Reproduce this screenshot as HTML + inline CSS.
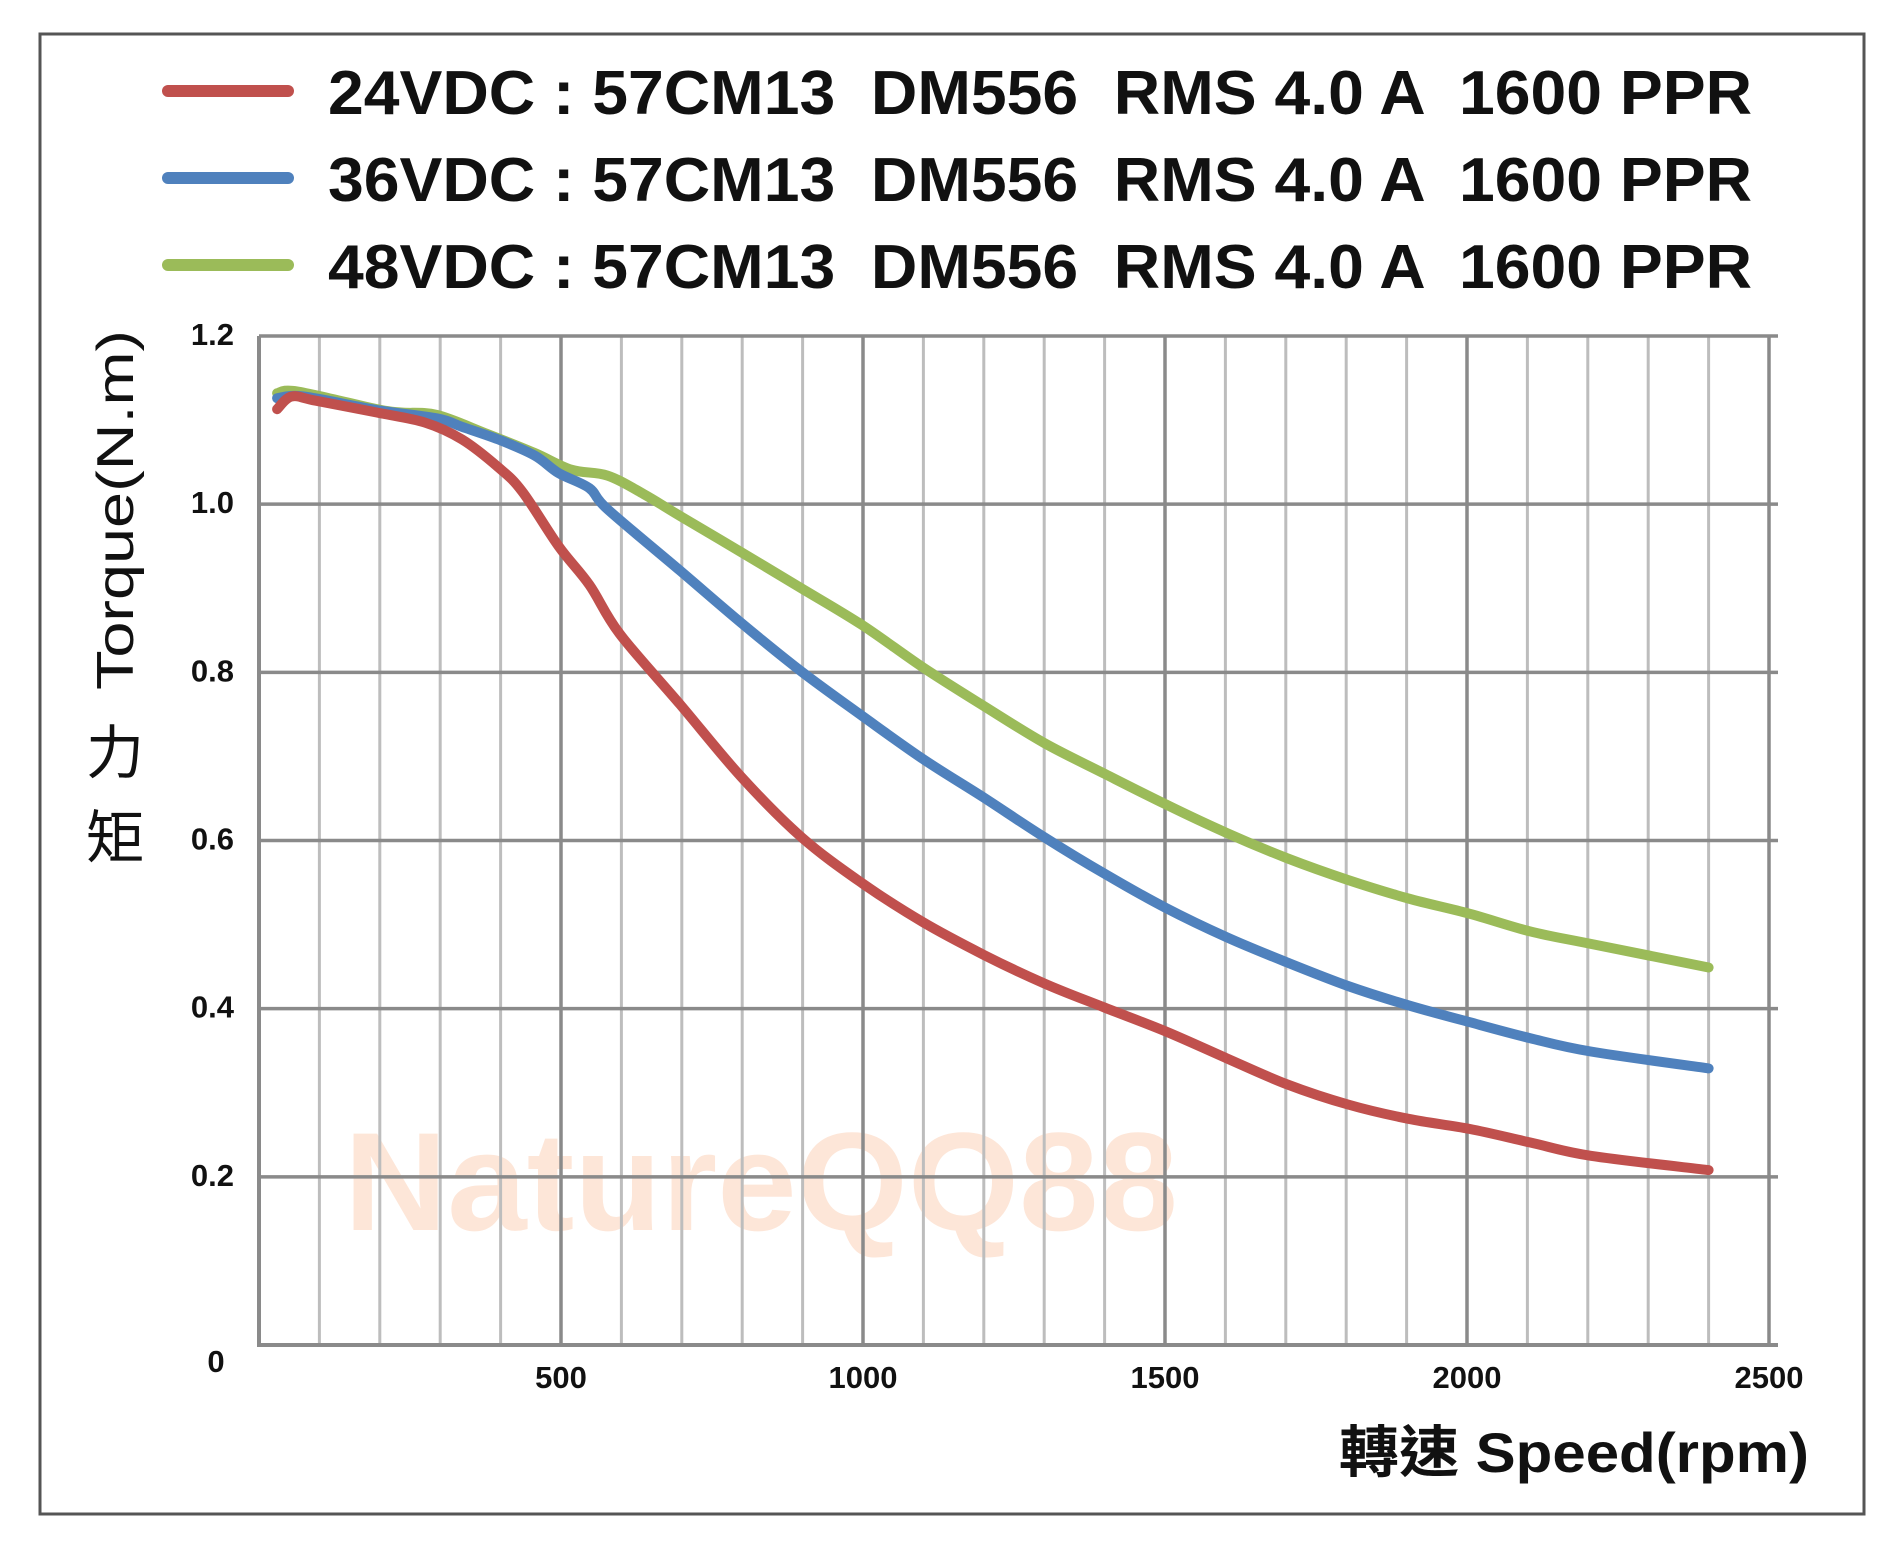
<!DOCTYPE html>
<html><head><meta charset="utf-8"><style>
html,body{margin:0;padding:0;background:#fff;}
svg{display:block;}
</style></head><body>
<svg id="chart" width="1900" height="1550" viewBox="0 0 1900 1550" xmlns="http://www.w3.org/2000/svg">
<rect x="40" y="34" width="1824" height="1480" fill="#fff" stroke="#555" stroke-width="3"/>
<text x="344" y="1230" font-family="Liberation Sans, sans-serif" font-weight="bold" font-size="140" fill="#fde6d8" textLength="834" lengthAdjust="spacingAndGlyphs">NatureQQ88</text>
<g id="grid"></g>
<g id="ticks"></g>
<g id="series"></g>
<g id="legend"></g>
<text transform="translate(133,690) rotate(-90)" font-family="Liberation Sans, sans-serif" font-size="52" fill="#111" textLength="360" lengthAdjust="spacingAndGlyphs">Torque(N.m)</text>
<text x="115" y="773" text-anchor="middle" font-family="'Noto Sans CJK TC', sans-serif" font-size="58" fill="#111">力</text>
<text x="115" y="858" text-anchor="middle" font-family="'Noto Sans CJK TC', sans-serif" font-size="58" fill="#111">矩</text>
<text x="1809" y="1472" text-anchor="end" font-family="'Liberation Sans', 'Noto Sans CJK TC', sans-serif" font-weight="bold" font-size="56" fill="#111" textLength="470" lengthAdjust="spacingAndGlyphs">轉速 Speed(rpm)</text>
</svg>
<script>
const xTicks = [500, 1000, 1500, 2000, 2500];
const yTicks = [0.2, 0.4, 0.6, 0.8, 1.0, 1.2];
const yTickLabels = ['0.2', '0.4', '0.6', '0.8', '1.0', '1.2'];
const seriesNames = ['24VDC', '36VDC', '48VDC'];
const legendLabels = ['24VDC : 57CM13  DM556  RMS 4.0 A  1600 PPR','36VDC : 57CM13  DM556  RMS 4.0 A  1600 PPR','48VDC : 57CM13  DM556  RMS 4.0 A  1600 PPR'];
const rpm24 = [30,54,94,195,275,336,396,436,496,547,597,697,798,898,999,1099,1200,1300,1401,1501,1602,1702,1803,1903,2004,2104,2205,2400];
const tq24 = [1.113,1.128,1.123,1.109,1.097,1.077,1.044,1.015,0.950,0.904,0.846,0.762,0.676,0.604,0.549,0.503,0.464,0.430,0.401,0.373,0.341,0.310,0.286,0.269,0.257,0.241,0.225,0.208];
const rpm36 = [30,74,195,295,336,396,456,496,547,577,697,798,898,999,1099,1200,1300,1401,1501,1602,1702,1803,1903,2004,2104,2205,2400];
const tq36 = [1.126,1.128,1.112,1.102,1.092,1.077,1.058,1.037,1.019,0.994,0.921,0.859,0.801,0.748,0.697,0.651,0.604,0.560,0.520,0.485,0.455,0.427,0.404,0.384,0.365,0.349,0.329];
const rpm48 = [30,64,195,235,295,376,456,517,577,637,697,798,898,999,1099,1200,1300,1401,1501,1602,1702,1803,1903,2004,2104,2205,2400];
const tq48 = [1.132,1.134,1.113,1.109,1.106,1.084,1.061,1.041,1.034,1.012,0.986,0.943,0.900,0.856,0.806,0.760,0.716,0.679,0.643,0.609,0.579,0.553,0.531,0.513,0.492,0.477,0.449];

const NS='http://www.w3.org/2000/svg';
const X0=259, X1=1769, Y0=1345, YT=336;
function xs(v){return X0+(v/2500)*(X1-X0);}
function ys(t){return Y0-(t/1.2)*(Y0-YT);}
function mk(tag,attrs,parent){const e=document.createElementNS(NS,tag);for(const k in attrs)e.setAttribute(k,attrs[k]);parent.appendChild(e);return e;}
function smooth(px){
  let d='M'+px[0][0].toFixed(1)+','+px[0][1].toFixed(1);
  for(let i=0;i<px.length-1;i++){
    const p0=px[Math.max(0,i-1)],p1=px[i],p2=px[i+1],p3=px[Math.min(px.length-1,i+2)];
    const c1=[p1[0]+(p2[0]-p0[0])/6,p1[1]+(p2[1]-p0[1])/6];
    const c2=[p2[0]-(p3[0]-p1[0])/6,p2[1]-(p3[1]-p1[1])/6];
    d+=' C'+c1[0].toFixed(1)+','+c1[1].toFixed(1)+' '+c2[0].toFixed(1)+','+c2[1].toFixed(1)+' '+p2[0].toFixed(1)+','+p2[1].toFixed(1);
  }
  return d;
}
const grid=document.getElementById('grid'), ticks=document.getElementById('ticks'), series=document.getElementById('series'), legend=document.getElementById('legend');

for(let v=100;v<2500;v+=100){
  if(v%500===0) continue;
  const l=mk('line',{x1:xs(v),x2:xs(v),y1:ys(1.2),y2:ys(0),stroke:'#bdbdbd','stroke-width':3},grid);
  
  
}
xTicks.forEach(v=>{
  const l=mk('line',{x1:xs(v),x2:xs(v),y1:ys(1.2),y2:ys(0),stroke:'#8a8a8a','stroke-width':3.5},grid);
  
  
  const t=mk('text',{x:xs(v),y:1388,'text-anchor':'middle','font-family':'Liberation Sans, sans-serif','font-weight':'bold','font-size':31,fill:'#111'},ticks);
  t.textContent=String(v);
  
  
});
yTicks.forEach((v,i)=>{
  const l=mk('line',{x1:X0,x2:1778,y1:ys(v),y2:ys(v),stroke:'#8a8a8a','stroke-width':3.5},grid);
  
  
  const t=mk('text',{x:234,y:ys(v)+9,'text-anchor':'end','font-family':'Liberation Sans, sans-serif','font-weight':'bold','font-size':31,fill:'#111'},ticks);
  t.textContent=yTickLabels[i];
  
  
});
const ax=mk('polyline',{points:`${X0},${ys(1.2)} ${X0},${Y0} 1778,${Y0}`,fill:'none',stroke:'#8a8a8a','stroke-width':4},grid);


const z=mk('text',{x:216,y:1372,'text-anchor':'middle','font-family':'Liberation Sans, sans-serif','font-weight':'bold','font-size':31,fill:'#111'},ticks);
z.textContent='0';



const colors=['#c0504d','#4f81bd','#9bbb59'];
const data=[[rpm24,tq24],[rpm36,tq36],[rpm48,tq48]];
[2,1,0].forEach(i=>{
  const [r,t]=data[i];
  const px=r.map((v,j)=>[xs(v),ys(t[j])]);
  const p=mk('path',{d:smooth(px),fill:'none',stroke:colors[i],'stroke-width':10,'stroke-linejoin':'round','stroke-linecap':'round'},series);
  
  
});
const ly=[91,178,265];
legendLabels.forEach((s,i)=>{
  const l=mk('line',{x1:168,x2:288,y1:ly[i],y2:ly[i],stroke:colors[i],'stroke-width':12,'stroke-linecap':'round'},legend);
  
  
  const t=mk('text',{x:328,y:ly[i]+23,'font-family':'Liberation Sans, sans-serif','font-weight':'bold','font-size':62,fill:'#111',textLength:1424,lengthAdjust:'spacingAndGlyphs'},legend);
  t.setAttribute('style','white-space:pre');
  t.textContent=s;
  
  
});
</script>
</body></html>
